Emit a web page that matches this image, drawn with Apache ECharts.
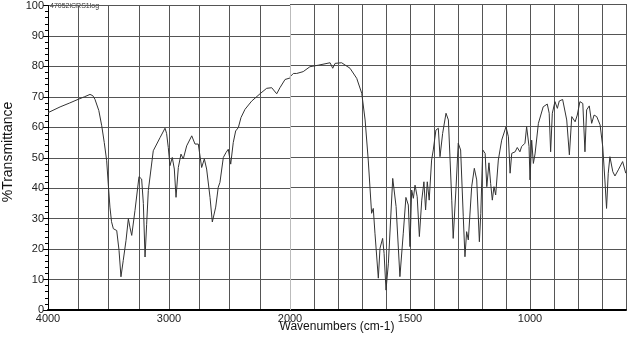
<!DOCTYPE html>
<html>
<head>
<meta charset="utf-8">
<script src="https://cdn.jsdelivr.net/npm/echarts@6/dist/echarts.min.js"></script>
<style>
  html, body { margin: 0; padding: 0; background: #fff; }
  #main { width: 629px; height: 342px; }
</style>
</head>
<body>
<div id="main"></div>
<script>
// wavenumbers (cm-1) and %T
const wavenumbers = [
  4000, 3900, 3820, 3750, 3700, 3653, 3630, 3612, 3580, 3556, 3535, 3515, 3502, 3488, 3475, 3460,
  3432, 3413, 3397, 3378, 3355, 3336, 3322, 3308, 3281, 3248, 3226, 3212, 3198, 3185, 3171, 3130,
  3074, 3033, 3020, 3006, 2992, 2973, 2956, 2942, 2923, 2901, 2882, 2854, 2812, 2785, 2758, 2730,
  2708, 2689, 2661, 2642, 2614, 2593, 2579, 2551, 2529, 2510, 2490, 2469, 2449, 2427, 2405, 2372,
  2317, 2248, 2193, 2151, 2110, 2083, 2041, 2000, 1986, 1972, 1945, 1917, 1882, 1875, 1833, 1822,
  1812, 1785, 1750, 1722, 1701, 1687, 1674, 1660, 1653, 1646, 1632, 1625, 1614, 1608, 1600, 1590,
  1572, 1558, 1542, 1528, 1517, 1507, 1500, 1493, 1486, 1479, 1470, 1461, 1451, 1442, 1435, 1428,
  1420, 1410, 1403, 1392, 1382, 1375, 1364, 1350, 1340, 1333, 1326, 1320, 1308, 1299, 1289, 1278,
  1271, 1264, 1257, 1243, 1232, 1222, 1211, 1205, 1197, 1187, 1180, 1171, 1164, 1157, 1150, 1143,
  1132, 1118, 1100, 1090, 1083, 1076, 1062, 1053, 1042, 1035, 1021, 1014, 1004, 1000, 993, 986,
  979, 965, 945, 928, 920, 914, 907, 896, 886, 878, 864, 847, 836, 826, 820, 812,
  803, 792, 780, 771, 764, 753, 743, 733, 722, 708, 697, 688, 681, 674, 667, 655,
  646, 632, 614, 601
];
const transmittance = [
  64.8, 66.7, 68.0, 69.2, 70.0, 70.8, 70.4, 69.2, 65.5, 60.5, 55.0, 49.0, 41.4, 33.8, 29.0, 26.7,
  26.1, 19.6, 10.9, 16.3, 22.9, 30.0, 27.0, 24.5, 32.7, 43.8, 43.0, 35.0, 17.4, 28.0, 39.2, 52.3,
  56.6, 59.7, 58.0, 53.4, 47.4, 50.1, 46.3, 37.0, 46.8, 51.2, 49.6, 53.9, 57.2, 54.5, 54.5, 46.8,
  49.6, 46.3, 37.0, 28.9, 33.8, 40.3, 41.9, 50.1, 51.7, 52.8, 47.9, 55.0, 58.8, 59.9, 63.2, 65.9,
  68.6, 71.0, 72.8, 73.0, 71.0, 73.0, 75.7, 76.2, 77.3, 77.3, 77.9, 79.5, 80.0, 80.3, 80.8, 79.0,
  80.6, 80.8, 79.0, 75.7, 70.8, 62.1, 49.0, 31.6, 33.2, 25.1, 10.4, 20.2, 23.4, 18.5, 6.5, 15.3,
  43.0, 33.8, 10.9, 25.1, 36.8, 34.3, 20.7, 39.2, 36.5, 40.8, 37.0, 24.0, 35.9, 41.9, 32.7, 41.9,
  35.9, 49.0, 52.3, 58.8, 59.4, 50.1, 57.7, 64.3, 62.1, 49.0, 35.9, 23.4, 40.3, 54.5, 52.3, 30.5,
  17.4, 25.6, 22.9, 40.3, 46.3, 42.5, 22.3, 31.6, 52.3, 51.2, 40.3, 48.1, 41.4, 35.9, 40.3, 37.6,
  49.0, 55.5, 59.9, 56.6, 44.7, 51.2, 51.7, 53.1, 51.7, 53.4, 54.5, 59.9, 53.4, 42.5, 55.5, 47.9,
  51.0, 61.0, 66.4, 67.3, 64.3, 51.7, 64.3, 68.1, 65.9, 68.3, 68.8, 62.1, 50.7, 63.2, 63.7, 61.5,
  63.7, 68.1, 67.5, 51.7, 65.4, 66.7, 61.0, 63.7, 63.2, 60.5, 53.4, 42.5, 33.2, 44.7, 50.1, 45.2,
  43.8, 45.8, 48.5, 44.7
];
const yTicks = [0, 10, 20, 30, 40, 50, 60, 70, 80, 90, 100];
const xLabelsHigh = [3000, 4000];   // labels on the 4000-2000 section
const xLabelsLow = [1000, 1500, 2000]; // labels on the 2000-600 section
const fileLabel = "47052iCRS1log";

// the instrument plots 2000-600 at twice the scale, so two side-by-side grids
const points = wavenumbers.map((w, i) => [w, transmittance[i]]);
const highPart = points.filter(p => p[0] >= 2000);
const lowPart = points.filter(p => p[0] <= 2000);

const gridColor = "#555";
const font = "Liberation Sans";

const myChart = echarts.init(document.getElementById("main"), null, { renderer: "canvas" });
myChart.setOption({
  animation: false,
  textStyle: { fontFamily: font },
  grid: [
    { left: 48, top: 4, width: 242, height: 306 },
    { left: 290, top: 4, width: 336, height: 306 },
  ],
  xAxis: [
    {
      type: "value", gridIndex: 0, min: 2000, max: 4000, interval: 250, inverse: true,
      axisLine: { lineStyle: { color: "#000", width: 2 } },
      axisTick: { show: false },
      axisLabel: {
        margin: 3, fontSize: 11, color: "#222",
        formatter: v => (xLabelsHigh.includes(v) ? String(v) : ""),
      },
      // 2000 line is drawn on its own, lighter
      splitLine: { show: true, showMinLine: false, lineStyle: { color: gridColor, width: 1 } },
    },
    {
      type: "value", gridIndex: 1, min: 600, max: 2000, interval: 100, inverse: true,
      axisLine: { lineStyle: { color: "#000", width: 2 } },
      axisTick: { show: false },
      axisLabel: {
        margin: 3, fontSize: 11, color: "#222",
        formatter: v => (xLabelsLow.includes(v) ? String(v) : ""),
      },
      splitLine: { show: true, showMaxLine: false, lineStyle: { color: gridColor, width: 1 } },
    },
  ],
  yAxis: [
    {
      type: "value", gridIndex: 0, min: 0, max: 100, interval: 10,
      axisLine: { show: true, lineStyle: { color: "#000", width: 1 } },
      axisTick: { show: true, length: 5, lineStyle: { color: "#000" } },
      minorTick: { show: true, splitNumber: 5, length: 3, lineStyle: { color: "#000" } },
      axisLabel: {
        margin: 4, fontSize: 11, color: "#222",
        formatter: v => (yTicks.includes(v) ? String(v) : ""),
      },
      splitLine: { show: true, lineStyle: { color: gridColor, width: 1 } },
    },
    {
      type: "value", gridIndex: 1, min: 0, max: 100, interval: 10,
      axisLine: { show: false },
      axisTick: { show: false },
      axisLabel: { show: false },
      splitLine: { show: true, lineStyle: { color: gridColor, width: 1 } },
    },
  ],
  series: [
    {
      type: "line", xAxisIndex: 0, yAxisIndex: 0, data: highPart,
      showSymbol: false, lineStyle: { color: "#333", width: 1 },
      markLine: {
        silent: true, symbol: "none", label: { show: false },
        lineStyle: { color: "#bbb", type: "solid", width: 1 },
        data: [{ xAxis: 2000 }],
      },
    },
    {
      type: "line", xAxisIndex: 1, yAxisIndex: 1, data: lowPart,
      showSymbol: false, lineStyle: { color: "#333", width: 1 },
    },
  ],
  graphic: [
    {
      type: "text", x: 8, y: 152, rotation: Math.PI / 2,
      style: { text: "%Transmittance", font: "14px " + font, fill: "#111", align: "center", verticalAlign: "middle" },
    },
    {
      type: "text", x: 337, y: 327,
      style: { text: "Wavenumbers (cm-1)", font: "12px " + font, fill: "#111", align: "center", verticalAlign: "middle" },
    },
    {
      type: "text", x: 50, y: 6,
      style: { text: fileLabel, font: "7px " + font, fill: "#333", align: "left", verticalAlign: "middle" },
    },
  ],
});

window.addEventListener("resize", function () {
  myChart.resize();
});
</script>
</body>
</html>
